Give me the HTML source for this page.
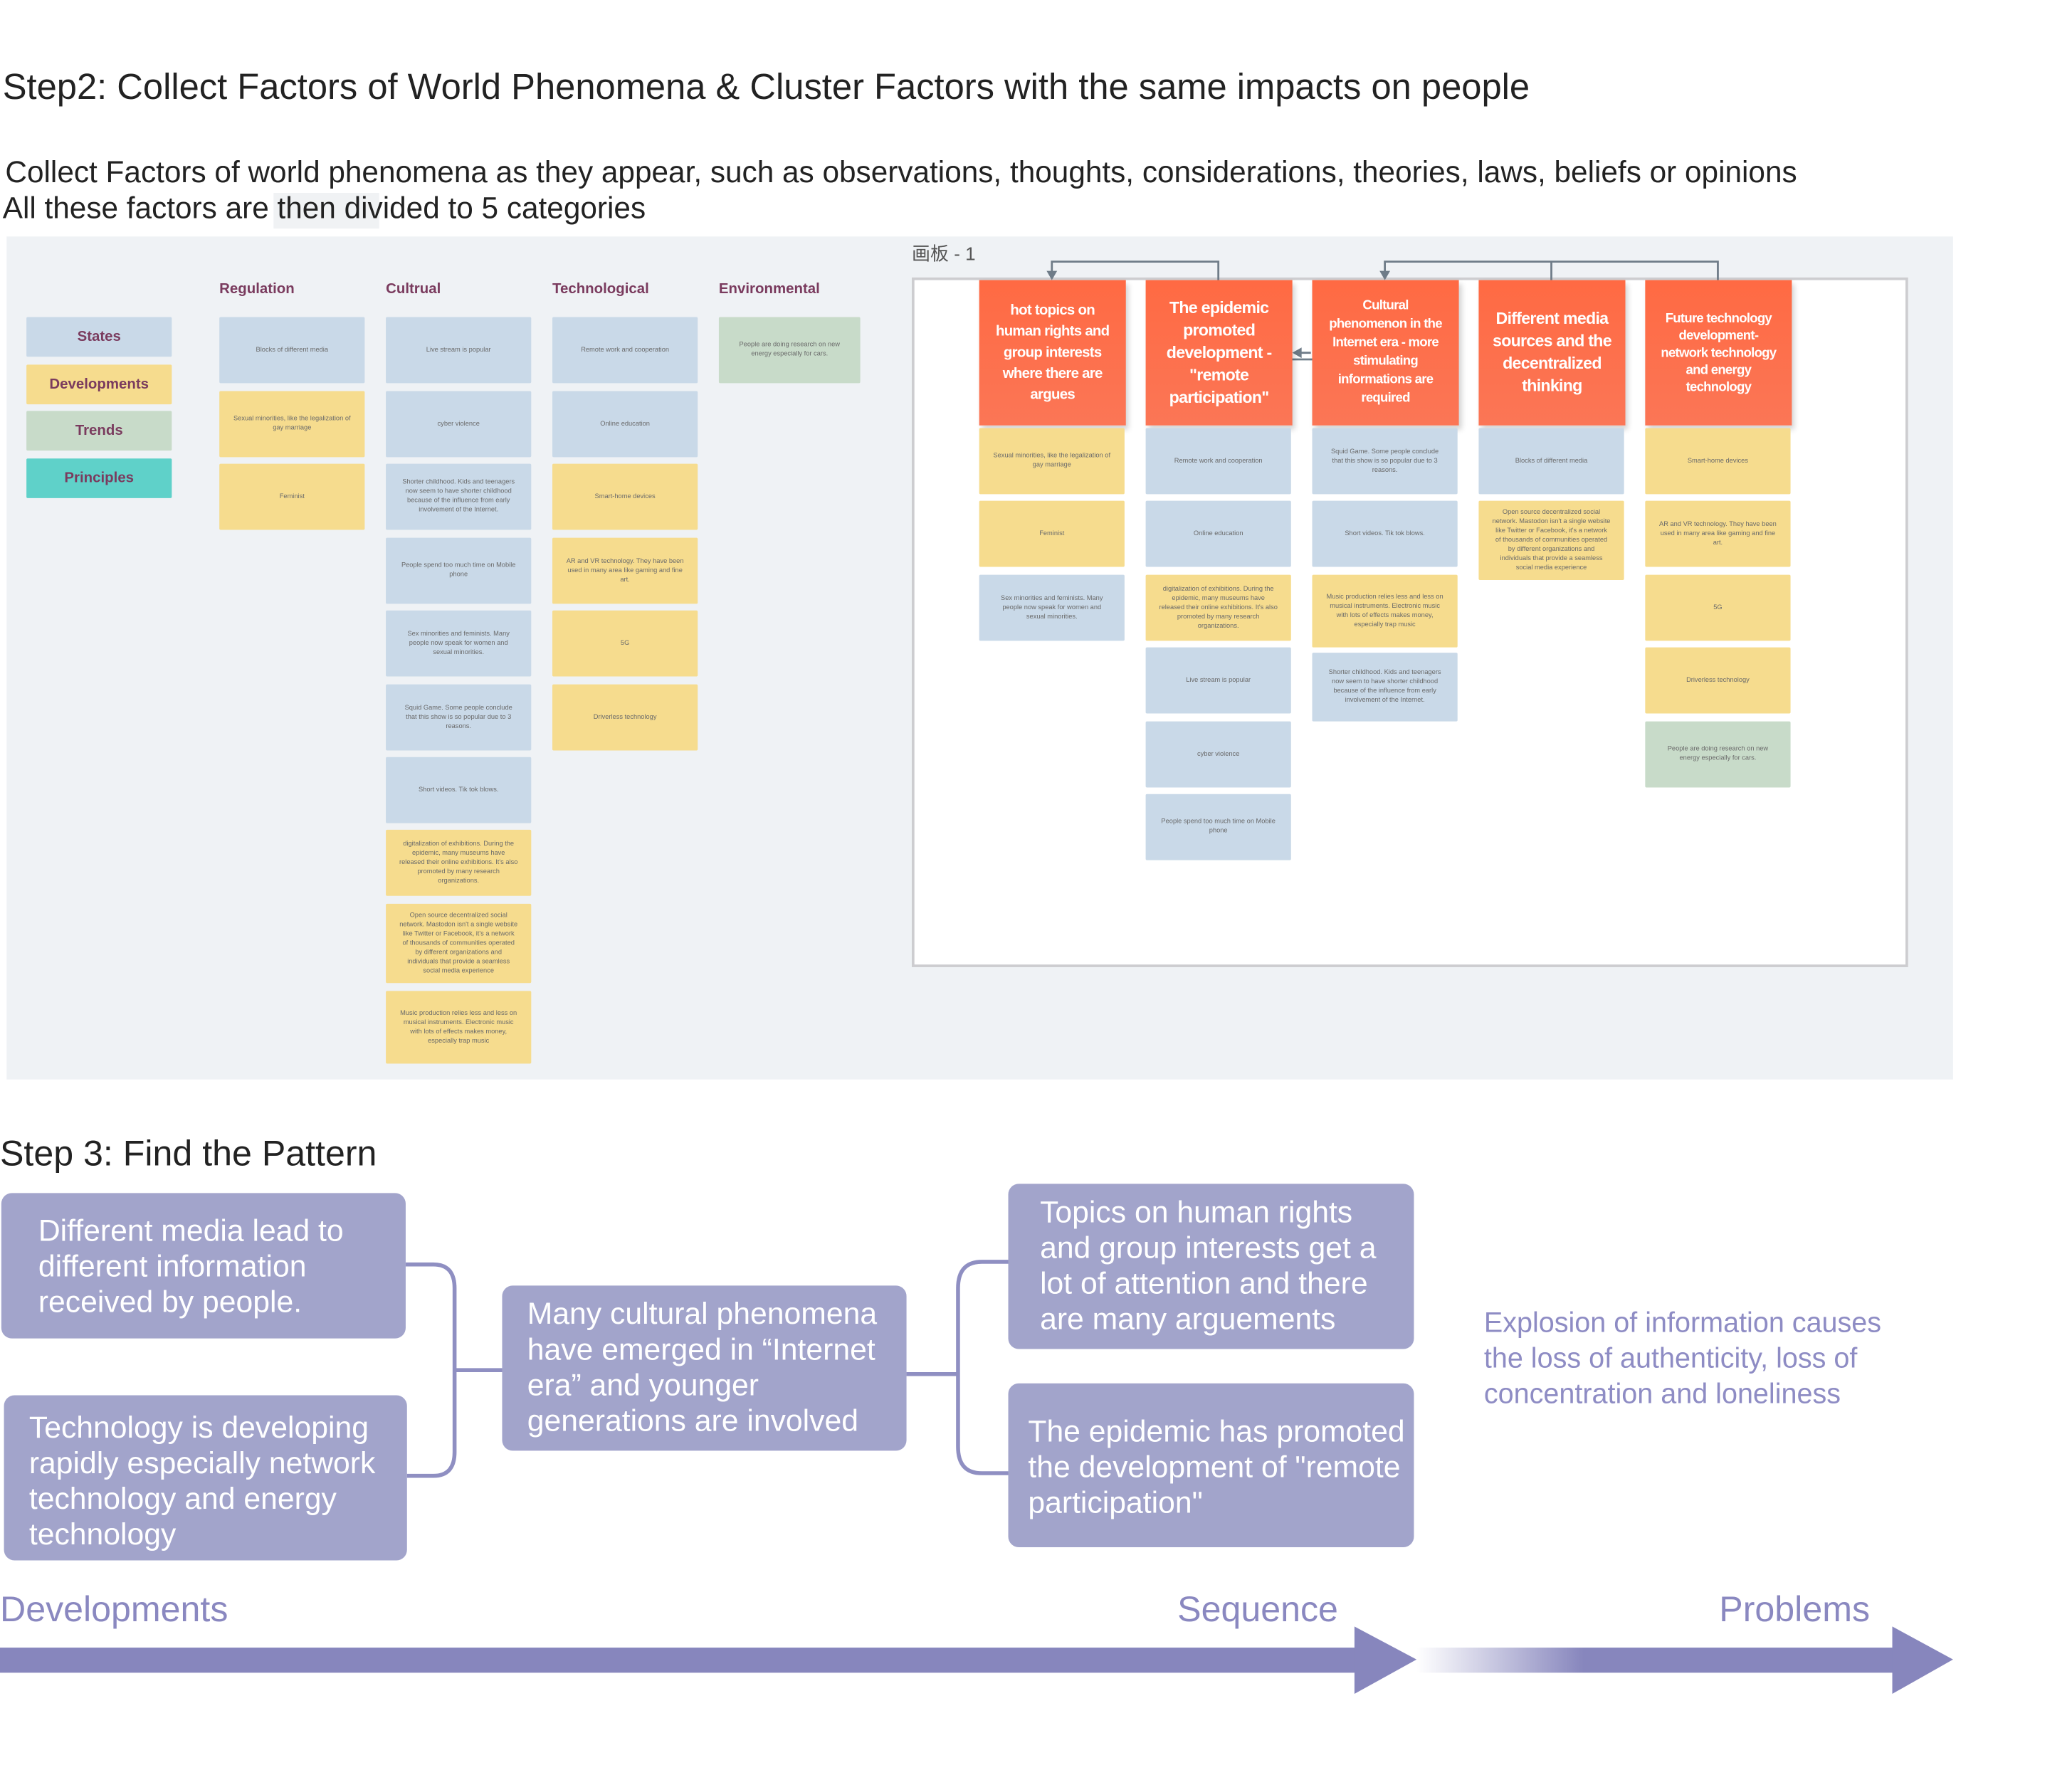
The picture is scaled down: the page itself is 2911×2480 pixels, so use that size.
<!DOCTYPE html>
<html><head><meta charset="utf-8">
<style>
html,body{margin:0;padding:0;background:#fff;}
body{width:2911px;height:2480px;overflow:hidden;position:relative;}
#w{position:absolute;left:0;top:0;width:1568px;height:1336px;transform:scale(1.8565);transform-origin:0 0;font-family:"Liberation Sans","Noto Sans CJK SC",sans-serif;}
.a{position:absolute;}
.t{position:absolute;white-space:nowrap;color:#222;}
.c{position:absolute;width:110px;height:50px;display:flex;align-items:center;justify-content:center;text-align:center;font-size:5px;line-height:7px;color:#6a6a6a;box-sizing:border-box;padding:0 10px;border-radius:1px;}
.b{background:#c9d9e8;}.y{background:#f6dc8e;}.g{background:#c8dbc9;}
.lg{position:absolute;left:20px;width:110px;height:30px;display:flex;align-items:center;justify-content:center;font-size:11px;font-weight:bold;color:#7a3b5e;border-radius:1px;}
.h{position:absolute;top:213px;font-size:11px;font-weight:bold;color:#7a3b5e;}
.o{position:absolute;top:212px;width:111px;height:110px;background:linear-gradient(180deg,#ff6a43,#fb7656);color:#fff;font-weight:bold;font-size:11px;line-height:16px;display:flex;align-items:center;justify-content:center;text-align:center;box-sizing:border-box;padding:0 8px;box-shadow:2px 3px 4px rgba(0,0,0,.18);letter-spacing:-0.4px;}
.p{position:absolute;background:#a2a4cb;border-radius:8px;color:#fff;font-size:23px;line-height:27px;box-sizing:border-box;white-space:nowrap;}
.lab{position:absolute;font-size:27px;color:#8a88c0;}
</style></head><body><div id="w">
<div class="t" style="left:2px;top:50px;font-size:27.3px;">Step2: Collect Factors of World Phenomena &amp; Cluster Factors with the same impacts on people</div>
<div class="a" style="left:207px;top:146px;width:80px;height:27px;background:#f0f2f4;"></div>
<div class="t" style="left:4px;top:117px;font-size:22.8px;">Collect Factors of world phenomena as they appear, such as observations, thoughts, considerations, theories, laws, beliefs or opinions</div>
<div class="t" style="left:2px;top:144px;font-size:22.8px;">All these factors are then divided to 5 categories</div>

<div class="a" style="left:5px;top:179px;width:1473px;height:638px;background:#eff2f5;"></div>
<div class="lg b" style="top:240px;">States</div>
<div class="lg y" style="top:276px;">Developments</div>
<div class="lg g" style="top:311px;">Trends</div>
<div class="lg" style="top:347px;background:#5fd1c9;">Principles</div>
<div class="h" style="left:166px;">Regulation</div>
<div class="h" style="left:292px;">Cultrual</div>
<div class="h" style="left:418px;">Technological</div>
<div class="h" style="left:544px;">Environmental</div>

<div class="c b" style="left:166px;top:240px;">Blocks of different media</div>
<div class="c y" style="left:166px;top:296px;">Sexual minorities, like the legalization of gay marriage</div>
<div class="c y" style="left:166px;top:351px;">Feminist</div>

<div class="c b" style="left:292px;top:240px;">Live stream is popular</div>
<div class="c b" style="left:292px;top:296px;">cyber violence</div>
<div class="c b" style="left:292px;top:351px;">Shorter childhood. Kids and teenagers now seem to have shorter childhood because of the influence from early involvement of the Internet.</div>
<div class="c b" style="left:292px;top:407px;">People spend too much time on Mobile phone</div>
<div class="c b" style="left:292px;top:462px;">Sex minorities and feminists. Many people now speak for women and sexual minorities.</div>
<div class="c b" style="left:292px;top:518px;">Squid Game. Some people conclude that this show is so popular due to 3 reasons.</div>
<div class="c b" style="left:292px;top:573px;">Short videos. Tik tok blows.</div>
<div class="c y" style="left:292px;top:628px;">digitalization of exhibitions. During the epidemic, many museums have released their online exhibitions. It's also promoted by many research organizations.</div>
<div class="c y" style="left:292px;top:684px;height:60px;">Open source decentralized social network. Mastodon isn't a single website like Twitter or Facebook, it's a network of thousands of communities operated by different organizations and individuals that provide a seamless social media experience</div>
<div class="c y" style="left:292px;top:750px;height:55px;">Music production relies less and less on musical instruments. Electronic music with lots of effects makes money, especially trap music</div>

<div class="c b" style="left:418px;top:240px;">Remote work and cooperation</div>
<div class="c b" style="left:418px;top:296px;">Online education</div>
<div class="c y" style="left:418px;top:351px;">Smart-home devices</div>
<div class="c y" style="left:418px;top:407px;">AR and VR technology. They have been used in many area like gaming and fine art.</div>
<div class="c y" style="left:418px;top:462px;">5G</div>
<div class="c y" style="left:418px;top:518px;">Driverless technology</div>
<div class="c g" style="left:544px;top:240px;width:107px;">People are doing research on new energy especially for cars.</div>

<div class="t" style="left:690px;top:182px;font-size:14px;color:#555;">画板 - 1</div>
<div class="a" style="left:690px;top:210px;width:750px;height:518px;background:#fff;border:2px solid #cdcdd0;"></div>

<svg class="a" style="left:0;top:0" width="1568" height="1336">
<g stroke="#6f7c88" stroke-width="1.5" fill="none">
<polyline points="796,210 796,198 922,198 922,272 993,272"/>
<polyline points="1048,210 1048,198 1300,198 1300,212"/>
<line x1="1174" y1="198" x2="1174" y2="212"/>
<line x1="992" y1="267" x2="983" y2="267"/>
</g>
<g fill="#6f7c88"><polygon points="792,205 800,205 796,212"/><polygon points="1044,205 1052,205 1048,212"/><polygon points="978,267 985,263 985,271"/></g>
</svg>

<div class="o" style="left:741px;">hot topics on human rights and group interests where there are argues</div>
<div class="o" style="left:867px;font-size:12.5px;line-height:17px;">The epidemic promoted development - "remote participation"</div>
<div class="o" style="left:993px;font-size:10px;line-height:14px;">Cultural phenomenon in the Internet era - more stimulating informations are required</div>
<div class="o" style="left:1119px;font-size:12.5px;line-height:17px;">Different media sources and the decentralized thinking</div>
<div class="o" style="left:1245px;font-size:10px;line-height:13px;">Future technology development- network technology and energy technology</div>

<div class="c y" style="left:741px;top:324px;">Sexual minorities, like the legalization of gay marriage</div>
<div class="c y" style="left:741px;top:379px;">Feminist</div>
<div class="c b" style="left:741px;top:435px;">Sex minorities and feminists. Many people now speak for women and sexual minorities.</div>

<div class="c b" style="left:867px;top:324px;">Remote work and cooperation</div>
<div class="c b" style="left:867px;top:379px;">Online education</div>
<div class="c y" style="left:867px;top:435px;">digitalization of exhibitions. During the epidemic, many museums have released their online exhibitions. It's also promoted by many research organizations.</div>
<div class="c b" style="left:867px;top:490px;">Live stream is popular</div>
<div class="c b" style="left:867px;top:546px;">cyber violence</div>
<div class="c b" style="left:867px;top:601px;">People spend too much time on Mobile phone</div>

<div class="c b" style="left:993px;top:324px;">Squid Game. Some people conclude that this show is so popular due to 3 reasons.</div>
<div class="c b" style="left:993px;top:379px;">Short videos. Tik tok blows.</div>
<div class="c y" style="left:993px;top:435px;height:55px;">Music production relies less and less on musical instruments. Electronic music with lots of effects makes money, especially trap music</div>
<div class="c b" style="left:993px;top:494px;height:52px;">Shorter childhood. Kids and teenagers now seem to have shorter childhood because of the influence from early involvement of the Internet.</div>

<div class="c b" style="left:1119px;top:324px;">Blocks of different media</div>
<div class="c y" style="left:1119px;top:379px;height:60px;">Open source decentralized social network. Mastodon isn't a single website like Twitter or Facebook, it's a network of thousands of communities operated by different organizations and individuals that provide a seamless social media experience</div>

<div class="c y" style="left:1245px;top:324px;">Smart-home devices</div>
<div class="c y" style="left:1245px;top:379px;">AR and VR technology. They have been used in many area like gaming and fine art.</div>
<div class="c y" style="left:1245px;top:435px;">5G</div>
<div class="c y" style="left:1245px;top:490px;">Driverless technology</div>
<div class="c g" style="left:1245px;top:546px;">People are doing research on new energy especially for cars.</div>

<div class="t" style="left:0px;top:858px;font-size:27px;">Step 3: Find the Pattern</div>

<svg class="a" style="left:0;top:0" width="1568" height="1336">
<g stroke="#8f8fc2" stroke-width="3" fill="none">
<path d="M307,957 H328 Q344,957 344,975 V1099 Q344,1117 328,1117 H308"/>
<line x1="344" y1="1037" x2="380" y2="1037"/>
<line x1="686" y1="1040" x2="725" y2="1040"/>
<path d="M763,955 H743 Q725,955 725,975 V1095 Q725,1115 743,1115 H763"/>
</g>
</svg>

<div class="p" style="left:1px;top:903px;width:306px;height:110px;padding:15px 0 0 28px;">Different media lead to<br>different information<br>received by people.</div>
<div class="p" style="left:3px;top:1056px;width:305px;height:125px;padding:11px 0 0 19px;">Technology is developing<br>rapidly especially network<br>technology and energy<br>technology</div>
<div class="p" style="left:380px;top:973px;width:306px;height:125px;padding:8px 0 0 19px;">Many cultural phenomena<br>have emerged in “Internet<br>era” and younger<br>generations are involved</div>
<div class="p" style="left:763px;top:896px;width:307px;height:125px;padding:8px 0 0 24px;">Topics on human rights<br>and group interests get a<br>lot of attention and there<br>are many arguements</div>
<div class="p" style="left:763px;top:1047px;width:307px;height:124px;padding:23px 0 0 15px;">The epidemic has promoted<br>the development of "remote<br>participation"</div>

<div class="t" style="left:1123px;top:988px;font-size:21.3px;line-height:27px;color:#8e8cc4;">Explosion of information causes<br>the loss of authenticity, loss of<br>concentration and loneliness</div>

<div class="lab" style="left:0px;top:1203px;">Developments</div>
<div class="lab" style="left:891px;top:1203px;">Sequence</div>
<div class="lab" style="left:1301px;top:1203px;">Problems</div>

<svg class="a" style="left:0;top:0" width="1568" height="1336">
<defs><linearGradient id="gr" x1="0" x2="1"><stop offset="0" stop-color="#8786bd" stop-opacity="0"/><stop offset="0.35" stop-color="#8786bd"/><stop offset="1" stop-color="#8786bd"/></linearGradient></defs>
<rect x="0" y="1247" width="1026" height="19" fill="#8786bd"/>
<polygon points="1025,1231 1072,1256 1025,1282" fill="#8786bd"/>
<rect x="1072" y="1247" width="361" height="19" fill="url(#gr)"/>
<polygon points="1432,1231 1478,1256 1432,1282" fill="#8786bd"/>
</svg>
</div></body></html>
